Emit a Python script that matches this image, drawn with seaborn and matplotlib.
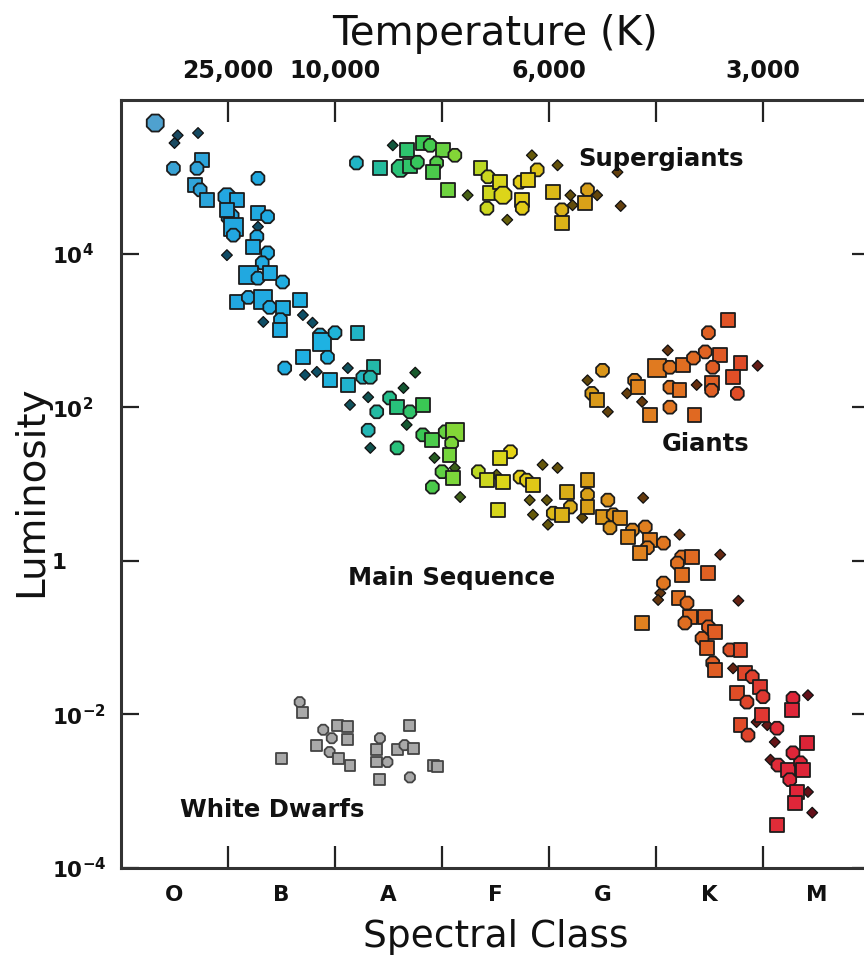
import numpy as np
import pandas as pd
import matplotlib
matplotlib.use("Agg")
import matplotlib.pyplot as plt
import seaborn as sns
from matplotlib.colors import LinearSegmentedColormap, to_rgb
from matplotlib.ticker import NullLocator

# ---------------- data ----------------
spectral_classes = ["O", "B", "A", "F", "G", "K", "M"]
class_boundaries = [1, 2, 3, 4, 5, 6]
temp_tick_pos = [1, 2, 4, 6]
temp_labels = ["25,000", "10,000", "6,000", "3,000"]
lum_exponents = [-4, -2, 0, 2, 4]

# main sequence: spectral position, log10(L/Lsun), size class (1 small, 2 medium, 3 large)
ms_x = [0.32, 0.53, 0.50, 0.72, 0.49, 0.76, 0.71, 0.69, 0.74, 0.80,
        0.99, 1.08, 1.02, 1.05, 1.05, 0.99, 1.28, 1.28, 1.37, 1.28,
        1.27, 1.23, 1.37, 0.99, 1.32, 1.19, 1.28, 1.39, 1.51, 1.08,
        1.19, 1.33, 1.39, 1.51, 1.49, 1.49, 1.33, 1.67, 1.70, 1.79,
        1.86, 1.88, 2.00, 2.21, 1.93, 1.70, 1.53, 1.72, 1.83, 1.95,
        2.12, 2.12, 2.26, 2.36, 2.33, 2.31, 2.39, 2.14, 2.51, 2.58,
        2.75, 2.64, 2.70, 2.82, 2.31, 2.33, 2.58, 2.67, 2.82, 2.91,
        3.03, 3.12, 3.09, 3.07, 2.93, 3.12, 3.00, 3.10, 2.91, 3.17,
        3.34, 3.42, 3.51, 3.57, 3.64, 3.54, 3.73, 3.52, 3.79, 3.85,
        3.94, 4.08, 3.82, 3.98, 3.85, 3.99, 4.04, 4.17, 4.20, 4.12,
        4.31, 4.36, 4.36, 4.36, 4.55, 4.50, 4.60, 4.66, 4.57, 4.88,
        4.78, 4.74, 4.90, 4.94, 4.92, 4.85, 5.07, 5.22, 5.24, 5.34,
        5.20, 5.24, 5.60, 5.49, 5.07, 5.04, 5.02, 5.21, 5.29, 5.32,
        5.27, 4.87, 5.77, 5.46, 5.49, 5.55, 5.43, 5.48, 5.53, 5.55,
        5.69, 5.79, 5.72, 5.83, 5.90, 5.76, 5.85, 5.97, 6.00, 5.99,
        5.94, 5.79, 5.86, 6.04, 6.13, 6.11, 6.28, 6.27, 6.42, 6.41,
        6.28, 6.07, 6.14, 6.23, 6.35, 6.37, 6.25, 6.32, 6.42, 6.30,
        6.46, 6.13]
ms_logL = [5.70, 5.54, 5.44, 5.57, 5.11, 5.22, 5.11, 4.89, 4.83, 4.70,
           4.74, 4.70, 4.48, 4.35, 4.24, 4.57, 4.98, 4.53, 4.48, 4.35,
           4.22, 4.09, 4.01, 3.98, 3.88, 3.72, 3.68, 3.75, 3.63, 3.37,
           3.43, 3.40, 3.30, 3.29, 3.14, 3.01, 3.11, 3.40, 3.20, 3.10,
           2.94, 2.85, 2.97, 2.97, 2.65, 2.65, 2.51, 2.42, 2.46, 2.35,
           2.51, 2.29, 2.39, 2.52, 2.39, 2.13, 1.94, 2.03, 2.12, 2.00,
           2.45, 2.25, 1.94, 2.03, 1.70, 1.47, 1.47, 1.77, 1.64, 1.57,
           1.68, 1.68, 1.53, 1.38, 1.34, 1.21, 1.16, 1.08, 0.96, 0.83,
           1.16, 1.05, 1.12, 1.03, 1.42, 1.34, 1.09, 0.66, 1.05, 0.99,
           1.25, 1.21, 0.79, 0.79, 0.60, 0.47, 0.62, 0.90, 0.70, 0.60,
           0.56, 1.05, 0.86, 0.70, 0.79, 0.57, 0.60, 0.56, 0.43, 0.82,
           0.40, 0.31, 0.44, 0.27, 0.17, 0.10, 0.23, 0.34, 0.05, 0.05,
           -0.03, -0.18, 0.08, -0.16, -0.29, -0.42, -0.51, -0.48, -0.55, -0.73,
           -0.81, -0.81, -0.52, -0.73, -0.86, -0.93, -1.01, -1.14, -1.33, -1.42,
           -1.16, -1.16, -1.40, -1.46, -1.51, -1.72, -1.84, -1.64, -1.77, -2.01,
           -2.10, -2.14, -2.27, -2.14, -2.18, -2.36, -1.79, -1.94, -1.75, -2.37,
           -2.50, -2.59, -2.66, -2.72, -2.63, -2.72, -2.85, -3.01, -3.01, -3.15,
           -3.28, -3.44]
ms_cls = [3, 1, 1, 1, 2, 2, 2, 2, 2, 2,
          3, 2, 3, 3, 2, 2, 2, 2, 2, 1,
          2, 2, 2, 1, 2, 3, 2, 2, 2, 2,
          2, 3, 2, 2, 2, 2, 1, 2, 1, 1,
          2, 3, 2, 2, 2, 2, 2, 1, 1, 2,
          1, 2, 2, 2, 2, 1, 2, 1, 2, 2,
          1, 1, 2, 2, 2, 1, 2, 1, 2, 2,
          2, 3, 2, 2, 1, 1, 2, 2, 2, 1,
          2, 2, 1, 2, 2, 2, 2, 2, 2, 2,
          1, 1, 1, 1, 1, 1, 2, 2, 2, 2,
          1, 2, 2, 2, 2, 2, 2, 2, 2, 1,
          2, 2, 2, 2, 2, 2, 2, 1, 2, 2,
          2, 2, 1, 2, 2, 1, 1, 2, 2, 2,
          2, 2, 1, 2, 2, 2, 2, 2, 2, 2,
          2, 2, 1, 2, 2, 2, 2, 2, 2, 2,
          1, 2, 2, 1, 2, 1, 2, 2, 1, 2,
          2, 1, 2, 2, 2, 2, 2, 2, 1, 2,
          1, 2]

# supergiants
sg_x = [2.20, 2.42, 2.54, 2.67, 2.61, 2.70, 2.77, 2.82, 2.89, 3.01,
        2.95, 2.92, 3.12, 3.06, 3.24, 3.36, 3.43, 3.45, 3.42, 3.54,
        3.57, 3.61, 3.73, 3.75, 3.75, 3.84, 3.89, 3.80, 4.08, 4.04,
        4.12, 4.12, 4.20, 4.22, 4.36, 4.34, 4.45, 4.64, 4.67]
sg_logL = [5.18, 5.11, 5.41, 5.35, 5.11, 5.14, 5.19, 5.44, 5.41, 5.35,
           5.18, 5.06, 5.28, 4.83, 4.76, 5.11, 5.00, 4.79, 4.59, 4.93,
           4.76, 4.44, 4.93, 4.70, 4.59, 5.28, 5.09, 4.96, 5.15, 4.80,
           4.57, 4.40, 4.76, 4.63, 4.83, 4.66, 4.76, 5.06, 4.62]
sg_cls = [2, 2, 1, 2, 3, 2, 2, 2, 2, 2,
          2, 2, 2, 2, 1, 2, 2, 2, 2, 2,
          3, 1, 2, 2, 2, 1, 2, 2, 1, 2,
          2, 2, 1, 1, 2, 2, 1, 1, 1]

# giants
g_x = [5.67, 5.49, 5.11, 5.46, 5.01, 5.13, 5.25, 5.35, 5.60, 5.53,
       5.79, 5.95, 5.72, 5.76, 5.52, 5.52, 5.38, 5.13, 5.22, 4.80,
       4.83, 4.73, 4.87, 4.50, 4.36, 4.40, 4.45, 4.55, 4.94, 5.13,
       5.36]
g_logL = [3.14, 2.97, 2.74, 2.72, 2.51, 2.52, 2.55, 2.64, 2.68, 2.52,
          2.58, 2.54, 2.39, 2.18, 2.32, 2.22, 2.29, 2.26, 2.22, 2.35,
          2.26, 2.18, 2.07, 2.48, 2.35, 2.18, 2.09, 1.94, 1.90, 2.00,
          1.90]
g_cls = [2, 2, 1, 2, 3, 2, 2, 2, 2, 2,
         2, 1, 2, 2, 2, 2, 1, 2, 2, 2,
         2, 1, 1, 2, 1, 2, 2, 1, 2, 2,
         2]

# white dwarfs
wd_x = [1.67, 1.70, 1.50, 1.89, 2.02, 2.12, 1.97, 2.12, 1.83, 1.95,
        2.03, 2.14, 2.42, 2.39, 2.39, 2.49, 2.42, 2.58, 2.65, 2.73,
        2.70, 2.70, 2.92, 2.96]
wd_logL = [-1.84, -1.97, -2.57, -2.20, -2.14, -2.16, -2.31, -2.33, -2.40, -2.49,
           -2.57, -2.66, -2.31, -2.46, -2.62, -2.62, -2.85, -2.46, -2.40, -2.44,
           -2.14, -2.82, -2.66, -2.68]

# ---------------- styling ----------------
sns.set_theme(style="white")
plt.rcParams["font.family"] = ["DejaVu Sans"]
plt.rcParams["text.color"] = "#111111"
plt.rcParams["xtick.color"] = "#111111"
plt.rcParams["ytick.color"] = "#111111"

stops = [(0.0, "#7aa0c4"), (0.45, "#3aa2d4"), (1.0, "#22a6e0"), (1.9, "#1eb2e2"),
         (2.25, "#22b4c0"), (2.55, "#26c080"), (2.85, "#3cc850"), (3.1, "#7cd63a"),
         (3.4, "#c8d820"), (3.65, "#e6d416"), (4.0, "#dcbc18"), (4.4, "#d89c18"),
         (4.9, "#e08020"), (5.4, "#e06822"), (5.8, "#e04a28"), (6.2, "#e0283a"),
         (7.0, "#d81830")]
cmap = LinearSegmentedColormap.from_list("hr", [(p / 7.0, c) for p, c in stops])
cmap_dark = LinearSegmentedColormap.from_list(
    "hr_dark", [(p / 7.0, tuple(0.45 * v for v in to_rgb(c))) for p, c in stops])

frames = []
for name, xs, ls, cs in [("ms", ms_x, ms_logL, ms_cls),
                         ("sg", sg_x, sg_logL, sg_cls),
                         ("g", g_x, g_logL, g_cls)]:
    frames.append(pd.DataFrame({"x": xs, "logL": ls, "cls": cs, "group": name}))
stars = pd.concat(frames, ignore_index=True)
stars["L"] = 10.0 ** stars["logL"]
stars["size"] = stars["cls"].map({1: "small", 2: "medium", 3: "large"})
stars["shape"] = np.where(stars.index % 2 == 0, "oct", "sq")

wd = pd.DataFrame({"x": wd_x, "logL": wd_logL})
wd["L"] = 10.0 ** wd["logL"]
wd["shape"] = np.where(wd.index % 3 == 0, "oct", "sq")

fig = plt.figure(figsize=(8.64, 9.6), dpi=100)
ax = fig.add_axes([121 / 864, 92 / 960, 749 / 864, 768 / 960])
ax.set_facecolor("white")

dark = stars[stars["cls"] == 1]
bright = stars[stars["cls"] > 1]

sns.scatterplot(data=dark, x="x", y="L", hue="x", palette=cmap_dark, hue_norm=(0, 7),
                s=30, marker="D", edgecolor="#101010", linewidth=0.9,
                legend=False, ax=ax, zorder=2)
sns.scatterplot(data=bright, x="x", y="L", hue="x", palette=cmap, hue_norm=(0, 7),
                size="size", sizes={"medium": 100, "large": 175},
                style="shape", markers={"oct": "8", "sq": "s"},
                edgecolor="#1c1c1c", linewidth=1.3, legend=False, ax=ax, zorder=3)
sns.scatterplot(data=wd, x="x", y="L", color="#a9a9a9", s=62,
                style="shape", markers={"oct": "8", "sq": "s"},
                edgecolor="#444444", linewidth=1.3, legend=False, ax=ax, zorder=3)

ax.set_yscale("log")
ax.set_xlim(0, 7)
ax.set_ylim(1e-4, 1e6)

# ticks
ax.set_xticks(class_boundaries)
ax.set_xticklabels([])
ax.set_xticks([i + 0.5 for i in range(len(spectral_classes))], minor=True)
ax.set_xticklabels(spectral_classes, minor=True)
ax.tick_params(axis="x", which="major", direction="in", length=16, width=1.6,
               color="#222222", top=True, bottom=True)
ax.tick_params(axis="x", which="minor", length=0, pad=12, labelsize=15.5)
for lab in ax.get_xticklabels(minor=True):
    lab.set_fontweight("bold")

ax.yaxis.set_minor_locator(NullLocator())
ax.set_yticks([10.0 ** e for e in lum_exponents])
ylabels = [r"$\mathbf{10^{%d}}$" % e if e != 0 else "1" for e in lum_exponents]
ax.set_yticklabels(ylabels)
ax.tick_params(axis="y", which="major", direction="in", length=13, width=1.6,
               color="#222222", left=True, right=True, pad=50, labelsize=15.5)
for lab in ax.get_yticklabels():
    lab.set_horizontalalignment("left")
    lab.set_fontweight("bold")

sec = ax.secondary_xaxis("top")
sec.set_xticks(temp_tick_pos)
sec.set_xticklabels(temp_labels)
sec.tick_params(length=0, pad=12, labelsize=17)
for lab in sec.get_xticklabels():
    lab.set_fontweight("bold")
sec.spines["top"].set_visible(False)
sec.set_xlabel("Temperature (K)", fontsize=29, labelpad=10, color="#111111")

for sp in ax.spines.values():
    sp.set_visible(True)
    sp.set_linewidth(2.2)
    sp.set_color("#333333")

ax.set_xlabel("Spectral Class", fontsize=27, labelpad=10, color="#111111")
ax.set_ylabel("Luminosity", fontsize=28, color="#111111")
ax.yaxis.set_label_coords(-0.095, 0.49)

# region labels
ax.text(5.05, 10 ** 5.23, "Supergiants", ha="center", va="center", fontsize=17.5, fontweight="bold", color="#111111")
ax.text(5.46, 10 ** 1.52, "Giants", ha="center", va="center", fontsize=17.5, fontweight="bold", color="#111111")
ax.text(3.09, 10 ** -0.22, "Main Sequence", ha="center", va="center", fontsize=17.5, fontweight="bold", color="#111111")
ax.text(1.41, 10 ** -3.24, "White Dwarfs", ha="center", va="center", fontsize=17.5, fontweight="bold", color="#111111")

fig.savefig("out.png", dpi=100, facecolor="white")
